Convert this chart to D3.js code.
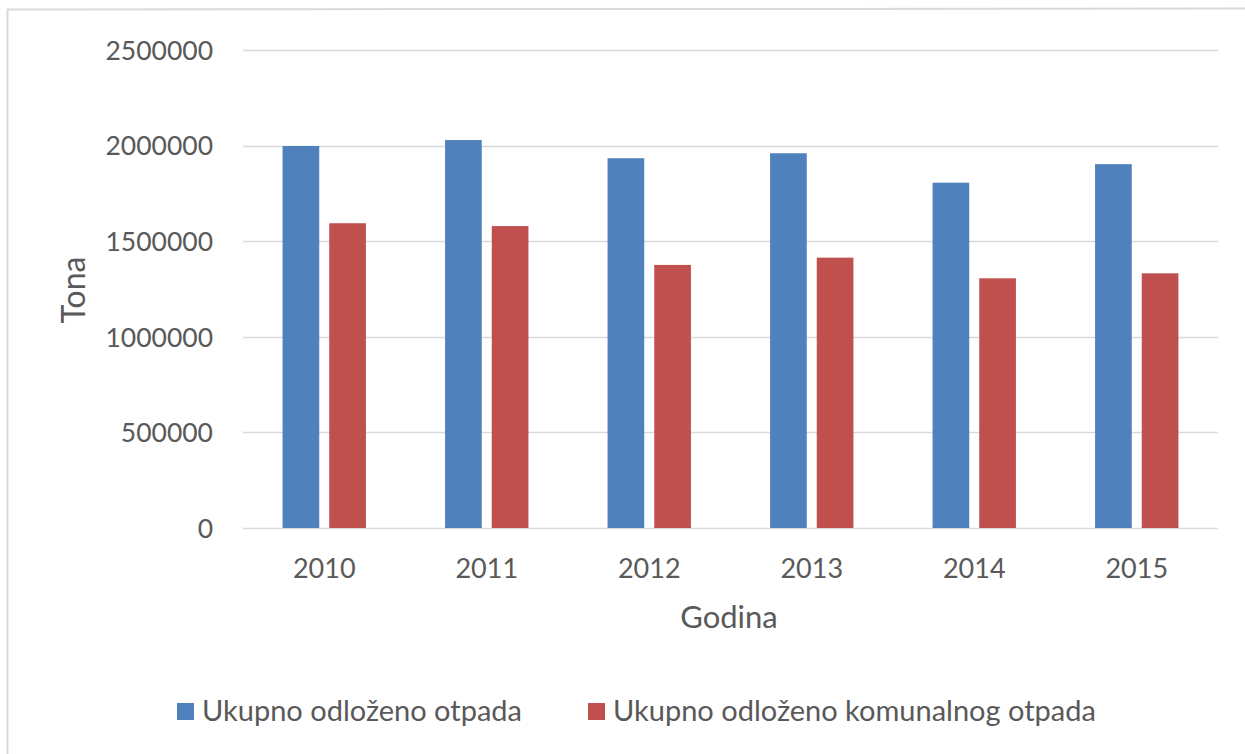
<!DOCTYPE html>
<html>
<head>
<meta charset="utf-8">
<script src="https://cdn.jsdelivr.net/npm/d3@7"></script>
<style>
  html, body { margin: 0; padding: 0; background: #fff; }
  svg { display: block; }
  text { font-family: Lato, "Open Sans", sans-serif; fill: #595959; }
</style>
</head>
<body>
<svg id="chart" width="1245" height="754"></svg>
<script>
const categories = ["2010", "2011", "2012", "2013", "2014", "2015"];
const seriesNames = ["Ukupno odloženo otpada", "Ukupno odloženo komunalnog otpada"];
const totalWaste = [1998000, 2029000, 1934000, 1960000, 1806000, 1903000];
const municipalWaste = [1594000, 1579000, 1376000, 1414000, 1306000, 1332000];
const yTicks = [0, 500000, 1000000, 1500000, 2000000, 2500000];
const colors = ["#4F81BD", "#C0504D"];
const xTitle = "Godina";
const yTitle = "Tona";

const seriesValues = [totalWaste, municipalWaste];

const svg = d3.select("#chart");
const W = 1245, H = 754;
const plot = { left: 243, right: 1218, top: 50, bottom: 528 };

// outer frame (left and top edges visible)
svg.append("line").attr("x1", 7.5).attr("x2", 7.5).attr("y1", 9).attr("y2", H)
  .attr("stroke", "#d9d9d9").attr("stroke-width", 2);
svg.append("line").attr("x1", 7).attr("x2", W).attr("y1", 9.5).attr("y2", 8.5)
  .attr("stroke", "#d9d9d9").attr("stroke-width", 2);

const x0 = d3.scaleBand().domain(categories).range([plot.left, plot.right])
  .paddingInner(0.487).paddingOuter(0.2435);
const x1 = d3.scaleBand().domain(d3.range(seriesNames.length))
  .range([0, x0.bandwidth()]).paddingInner(0.214);
const y = d3.scaleLinear().domain([0, 2500000]).range([plot.bottom, plot.top]);

// gridlines
svg.append("g").selectAll("line").data(yTicks).join("line")
  .attr("x1", plot.left).attr("x2", plot.right)
  .attr("y1", d => Math.round(y(d)) + 0.5).attr("y2", d => Math.round(y(d)) + 0.5)
  .attr("stroke", "#d9d9d9").attr("stroke-width", 1.5);

// y axis labels
const yAxis = d3.axisLeft(y).tickValues(yTicks).tickSize(0).tickPadding(0)
  .tickFormat(d3.format("d"));
const gy = svg.append("g").attr("transform", `translate(213,0)`).call(yAxis);
gy.select(".domain").remove();
gy.selectAll("text").style("font-size", "26.5px").style("font-family", "Lato, sans-serif")
  .attr("fill", "#595959").attr("dy", "0.35em");

// x axis labels
const xAxis = d3.axisBottom(x0).tickSize(0).tickPadding(0);
const gx = svg.append("g").attr("transform", `translate(0,${plot.bottom})`).call(xAxis);
gx.select(".domain").remove();
gx.selectAll("text").style("font-size", "27px").style("font-family", "Lato, sans-serif")
  .attr("fill", "#595959").attr("dy", "0").attr("y", 50);

// bars
const groups = svg.append("g").selectAll("g").data(categories).join("g")
  .attr("transform", d => `translate(${x0(d)},0)`);
groups.selectAll("rect")
  .data((d, i) => seriesValues.map((vals, s) => ({ s, v: vals[i] })))
  .join("rect")
  .attr("x", d => x1(d.s))
  .attr("width", x1.bandwidth())
  .attr("y", d => y(d.v))
  .attr("height", d => y(0) - y(d.v))
  .attr("fill", d => colors[d.s]);

// axis titles
svg.append("text").attr("x", 729).attr("y", 628)
  .attr("text-anchor", "middle").style("font-size", "31px").text(xTitle);
svg.append("text").attr("transform", "translate(85,290) rotate(-90)")
  .attr("text-anchor", "middle").style("font-size", "32px").text(yTitle);

// legend
const legendItems = [
  { x: 177, name: seriesNames[0], color: colors[0] },
  { x: 588, name: seriesNames[1], color: colors[1] }
];
const lg = svg.append("g").selectAll("g").data(legendItems).join("g")
  .attr("transform", d => `translate(${d.x},0)`);
lg.append("rect").attr("x", 0).attr("y", 703).attr("width", 17).attr("height", 17)
  .attr("fill", d => d.color);
lg.append("text").attr("x", 25).attr("y", 721).style("font-size", "29px")
  .text(d => d.name);
</script>
</body>
</html>
